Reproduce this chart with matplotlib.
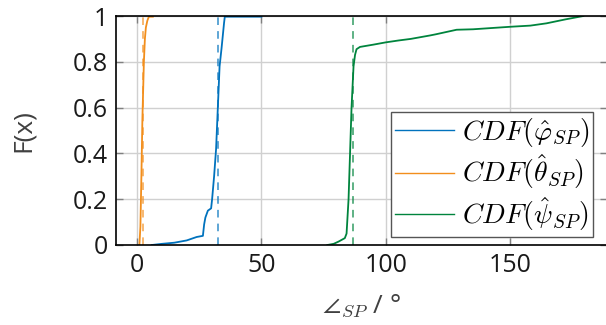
import numpy as np
import matplotlib.pyplot as plt

plt.rcParams['font.family'] = ['Open Sans', 'DejaVu Sans']
plt.rcParams['mathtext.fontset'] = 'cm'

phi_x = [6, 10, 15, 20, 24, 26.5, 27, 27.5, 28.5, 29.8, 30.2, 31, 31.8, 32.5, 33.2, 34, 35, 35.3, 50]
phi_F = [0, 0.005, 0.01, 0.02, 0.035, 0.04, 0.09, 0.12, 0.15, 0.16, 0.2, 0.3, 0.42, 0.6, 0.78, 0.86, 0.97, 0.997, 0.997]
phi_med = 32.5

theta_x = [1.0, 1.4, 1.8, 2.2, 2.8, 3.2, 3.6, 4.2, 4.8, 6.4]
theta_F = [0, 0.08, 0.3, 0.55, 0.8, 0.9, 0.95, 0.98, 0.997, 0.997]
theta_med = 2.6

psi_x = [76.5, 79, 81, 83.5, 84.2, 85.0, 85.6, 86.2, 87.0, 87.6, 88.2, 89.6, 95, 100, 105, 110, 117.7, 120,
         128.4, 135, 150, 158, 164.5, 172, 179.3]
psi_F = [0, 0.005, 0.015, 0.03, 0.05, 0.2, 0.4, 0.6, 0.78, 0.83, 0.855, 0.865, 0.875, 0.885, 0.893, 0.9, 0.915,
         0.92, 0.94, 0.942, 0.953, 0.958, 0.968, 0.985, 1.0]
psi_med = 86.9

labels = [r'$CDF(\hat{\varphi}_{SP})$', r'$CDF(\hat{\theta}_{SP})$', r'$CDF(\hat{\psi}_{SP})$']
colors = ['#0072BD', '#F28E1C', '#00843D']

fig = plt.figure(figsize=(6.06, 3.25), dpi=100)
ax = fig.add_axes([116 / 606, 1 - 245 / 325, 491 / 606, 229 / 325])

series = [(phi_x, phi_F, phi_med), (theta_x, theta_F, theta_med), (psi_x, psi_F, psi_med)]
for (x, F, med), c, lab in zip(series, colors, labels):
    ax.plot(x, F, color=c, lw=1.3, label=lab)
    ax.axvline(med, color=c, lw=1.1, ls=(0, (5, 4)), alpha=0.8)

ax.set_xlim(-8.4, 188.8)
ax.set_ylim(0, 1)
ax.set_xticks([0, 50, 100, 150])
ax.set_yticks([0, 0.2, 0.4, 0.6, 0.8, 1])
ax.set_yticklabels(['0', '0.2', '0.4', '0.6', '0.8', '1'])
ax.grid(True, color='#d0d0d0', lw=1)
ax.set_axisbelow(True)
ax.tick_params(direction='in', length=5, width=1, color='#808080', top=True, right=True,
               labelsize=18, labelcolor='#1a1a1a', pad=6)
for s in ax.spines.values():
    s.set_linewidth(1.2)

ax.set_ylabel('F(x)', fontsize=19, color='#404040', labelpad=26)
ax.set_xlabel(r'$\angle_{SP}$ / °', fontsize=19, color='#404040', labelpad=10)

leg = ax.legend(loc='lower right', bbox_to_anchor=(0.972, 0.035), fontsize=20, fancybox=False,
                framealpha=1, edgecolor='#555555', handlelength=2.1, handletextpad=0.3,
                borderpad=0.15, labelspacing=0.12, borderaxespad=0)
leg.get_frame().set_linewidth(1)
for h in leg.get_lines():
    h.set_linewidth(1.0)

fig.savefig('out.png', dpi=100)
